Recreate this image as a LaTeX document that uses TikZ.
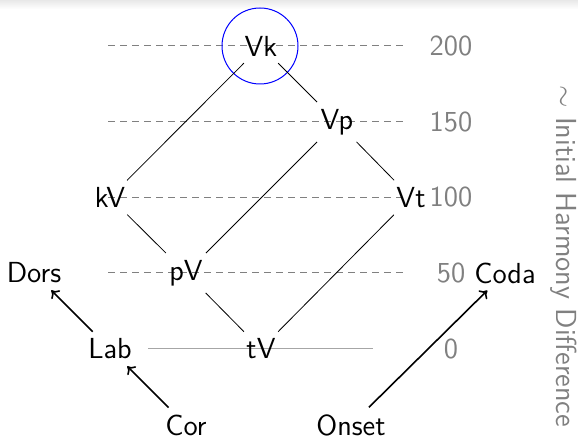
\documentclass[tikz,border=0pt]{standalone}
\usetikzlibrary{arrows.meta}
\begin{document}
\begin{tikzpicture}[x=0.5pt,y=-0.5pt,
  every node/.style={font=\sffamily\fontsize{14.5}{17}\selectfont},
  lvl/.style={draw=black!50,line width=0.5pt,dash pattern=on 3.6pt off 2.4pt},
  base/.style={draw=black!35,line width=0.5pt},
  val/.style={text=black!50},
  edge/.style={draw=black,line width=0.4pt},
  link/.style={draw=black,line width=0.8pt,-{To[length=3.5pt,width=6pt]}}]
\useasboundingbox (0,0) rectangle (578,437);
\shade[top color=black!9,bottom color=white] (0,0) rectangle (578,9);

% levels
\foreach \y/\v in {46/200,122/150,197.5/100,273/50}{
  \draw[lvl] (108,\y) -- (407,\y);
  \node[val] (l\v) at (451,\y) {\v};
}
\draw[base] (148,349) -- (373,349);
\node[val] (l0) at (451,349) {0};

% lattice
\node (Vk) at (261,46) {Vk};
\node (Vp) at (337,122) {Vp};
\node (kV) at (110,197.5) {kV};
\node (Vt) at (411,197.5) {Vt};
\node (pV) at (186,273) {pV};
\node (tV) at (261,349) {tV};
\draw[blue,line width=0.5pt] (260,46) circle[radius=38];

\draw[edge] (Vk) -- (kV);
\draw[edge] (Vk) -- (Vp);
\draw[edge] (Vp) -- (pV);
\draw[edge] (Vp) -- (Vt);
\draw[edge] (kV) -- (pV);
\draw[edge] (Vt) -- (tV);
\draw[edge] (pV) -- (tV);

% feature nodes
\node (Dors) at (34,273) {Dors};
\node (Lab) at (110,349) {Lab};
\node (Cor) at (186,425) {Cor};
\node (Onset) at (351,425) {Onset};
\node (Coda) at (505,273) {Coda};
\draw[link] (Lab) -- (Dors);
\draw[link] (Cor) -- (Lab);
\draw[link] (Onset) -- (Coda);

% axis title
\node[val,rotate=-90,anchor=base west,inner sep=0pt] (axis) at (556,85)
  {$\sim$ Initial Harmony Difference};
\end{tikzpicture}
\end{document}
